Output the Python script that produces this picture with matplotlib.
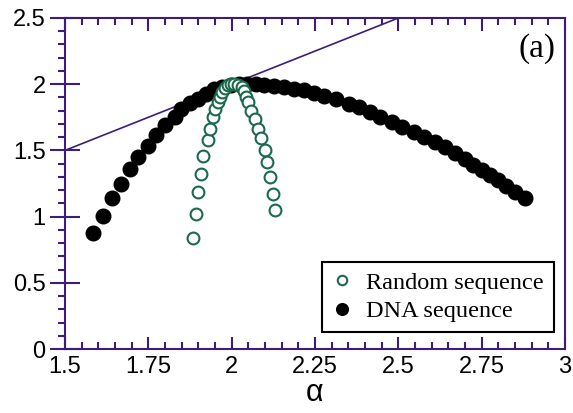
import numpy as np
import matplotlib
matplotlib.use("Agg")
import matplotlib.pyplot as plt
from matplotlib.ticker import MultipleLocator

# random sequence (open circles)
rand_alpha = [1.884, 1.892, 1.900, 1.908, 1.915, 1.930, 1.935, 1.944, 1.951, 1.959,
              1.965, 1.972, 1.980, 1.988, 1.998, 2.008, 2.020, 2.030, 2.038, 2.043,
              2.050, 2.059, 2.069, 2.079, 2.087, 2.100, 2.105, 2.115, 2.124, 2.131]
rand_f = [0.842, 1.022, 1.188, 1.322, 1.458, 1.575, 1.665, 1.752, 1.809, 1.862,
          1.903, 1.941, 1.975, 1.995, 2.000, 2.000, 1.995, 1.979, 1.945, 1.903,
          1.862, 1.798, 1.737, 1.665, 1.594, 1.503, 1.412, 1.299, 1.174, 1.050]

# DNA sequence (filled circles)
dna_alpha = [1.585, 1.614, 1.640, 1.669, 1.694, 1.719, 1.749, 1.774, 1.799, 1.829,
             1.849, 1.874, 1.898, 1.924, 1.948, 1.972, 1.997, 2.022, 2.047, 2.072,
             2.097, 2.127, 2.157, 2.187, 2.217, 2.247, 2.277, 2.312, 2.352, 2.381,
             2.416, 2.446, 2.481, 2.511, 2.546, 2.576, 2.611, 2.640, 2.670, 2.700,
             2.725, 2.750, 2.775, 2.800, 2.824, 2.850, 2.879]
dna_f = [0.878, 1.005, 1.143, 1.244, 1.357, 1.448, 1.536, 1.616, 1.692, 1.750,
         1.810, 1.856, 1.886, 1.926, 1.961, 1.980, 1.993, 2.000, 2.003, 2.001,
         1.996, 1.988, 1.977, 1.967, 1.956, 1.931, 1.911, 1.886, 1.851, 1.830,
         1.793, 1.755, 1.717, 1.679, 1.641, 1.604, 1.566, 1.524, 1.478, 1.433,
         1.390, 1.352, 1.314, 1.276, 1.231, 1.188, 1.140]

# tangent line f = alpha
line_x = [1.5, 2.5]

purple = "#3d1c7c"
green = "#1b6a4e"

fig = plt.figure(figsize=(5.73, 4.13), dpi=100)
ax = fig.add_axes([65/573, 1-349/413, 500/573, 331/413])

ax.plot(line_x, line_x, color=purple, lw=1.2, zorder=1)
ax.plot(dna_alpha, dna_f, "o", color="black", ms=10.5, label="DNA sequence", zorder=2)
ax.plot(rand_alpha, rand_f, "o", mfc="white", mec=green, mew=1.5, ms=8.5,
        label="Random sequence", zorder=3)

ax.set_xlim(1.5, 3)
ax.set_ylim(0, 2.5)

ax.xaxis.set_major_locator(MultipleLocator(0.25))
ax.xaxis.set_minor_locator(MultipleLocator(0.05))
ax.yaxis.set_major_locator(MultipleLocator(0.5))
ax.yaxis.set_minor_locator(MultipleLocator(0.1))
ax.set_xticks([1.5, 1.75, 2, 2.25, 2.5, 2.75, 3])
ax.set_xticklabels(["1.5", "1.75", "2", "2.25", "2.5", "2.75", "3"])
ax.set_yticks([0, 0.5, 1, 1.5, 2, 2.5])
ax.set_yticklabels(["0", "0.5", "1", "1.5", "2", "2.5"])

for sp in ax.spines.values():
    sp.set_color(purple)
    sp.set_linewidth(1.5)

ax.tick_params(axis="x", which="both", direction="in", top=True, bottom=True,
               color=purple, width=1.5, labelsize=17, pad=5)
ax.tick_params(axis="x", which="major", length=9)
ax.tick_params(axis="x", which="minor", length=5)
ax.tick_params(axis="y", which="major", direction="inout", length=22, width=1.5,
               color=purple, labelsize=17, pad=3)
ax.tick_params(axis="y", which="minor", direction="out", length=5, width=1.5,
               color=purple)
for lab in ax.get_xticklabels() + ax.get_yticklabels():
    lab.set_family("Liberation Sans")

ax.set_xlabel("α", fontsize=22, family="Liberation Sans", labelpad=0)

ax.text(0.982, 0.955, "(a)", transform=ax.transAxes, ha="right", va="top",
        fontsize=24, family="Liberation Serif")

handles, labels = ax.get_legend_handles_labels()
leg = ax.legend(handles[::-1], labels[::-1], loc="lower right",
                bbox_to_anchor=(0.977, 0.052), prop={"family": "Liberation Serif", "size": 17.5},
                markerscale=0.8, handlelength=0.8, handletextpad=0.6,
                fancybox=False, framealpha=1, borderpad=0.4, labelspacing=0.25,
                borderaxespad=0)
leg.get_frame().set_edgecolor("black")
leg.get_frame().set_linewidth(1.5)

plt.savefig("out.png", dpi=100)
plt.close()
